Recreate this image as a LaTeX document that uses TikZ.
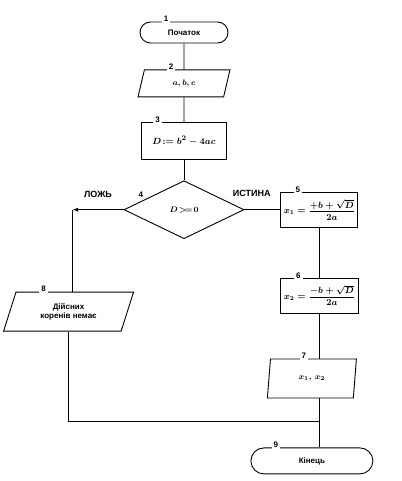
\documentclass[tikz,border=0pt]{standalone}
\usepackage{amsmath}
\usepackage[no-math]{fontspec}
\setmainfont{Liberation Sans}
\usetikzlibrary{arrows.meta,positioning,shapes.geometric,shapes.misc}
\newcommand{\fcfont}{\fontsize{8}{9.5}\selectfont\bfseries\boldmath}
\newcommand{\fcbigmath}{\fontsize{9.5}{11}\selectfont\boldmath}
\newcommand{\fcrootmath}{\fontsize{8.6}{10}\selectfont\boldmath}
\newcommand{\fcnumfont}{\fontsize{8}{9}\selectfont\bfseries}
\tikzset{
  fcTerm/.style={
    rounded rectangle, draw, align=center, inner sep=0pt,
    minimum height=21pt, font=\fcfont
  },
  fcProc/.style={
    rectangle, draw, align=center, inner sep=0pt,
    minimum height=35pt, font=\fcfont
  },
  fcData/.style={
    trapezium, trapezium left angle=#1, trapezium right angle={180-#1},
    trapezium stretches body, draw, align=center, inner sep=0pt,
    minimum height=39pt, font=\fcfont
  },
  fcData/.default=55,
  fcTest/.style={
    diamond, draw, align=center, inner sep=0pt,
    minimum width=120pt, minimum height=58pt, font=\fcfont
  },
  fcNum/.style={fill=white, inner xsep=2pt, inner ysep=1.5pt, anchor=center, font=\fcnumfont},
  fcFlag/.style={font=\fontsize{9}{10}\selectfont\bfseries, inner sep=0pt},
  fcFlow/.style={draw, line width=0.9pt},
  fcArrow/.style={-{Latex[length=2mm]}, draw, line width=0.9pt}
}

\begin{document}
\begin{tikzpicture}[line width=0.9pt]
  \useasboundingbox (0,0) rectangle (401pt,-481pt);

  \node[fcTerm, minimum width=88pt, label={[fcNum, xshift=-18pt, yshift=3pt]north:1}] (start) at (184pt,-32.5pt) {Початок};
  \node[fcData=48, minimum width=92pt, minimum height=27pt, below=26pt of start, label={[fcNum, xshift=-13pt, yshift=3pt]north:2}] (data) {$a,b,c$};
  \node[fcProc, minimum width=85pt, minimum height=37pt, below=25pt of data, font=\fcbigmath, label={[fcNum, xshift=-26.5pt, yshift=3pt]north:3}] (disc) {$D\!:=b^2-4ac$};
  \node[fcTest, below=20pt of disc, label={[fcNum, xshift=-13pt]north west:4}] (test) {$D\!>\!=\!0$};

  \node[fcProc, minimum width=77pt, right=36pt of test, font=\fcrootmath, label={[fcNum, xshift=-21.5pt, yshift=2pt]north:5}] (root1) {$x_1=\dfrac{+b+\sqrt{D}}{2a}$};
  \node[fcProc, minimum width=78pt, below=50pt of root1, font=\fcrootmath, label={[fcNum, xshift=-21pt, yshift=2pt]north:6}] (root2) {$x_2=\dfrac{-b+\sqrt{D}}{2a}$};
  \node[fcData=59, minimum width=89pt, below=45pt of root2, xshift=-7.5pt, label={[fcNum, xshift=-8pt, yshift=3pt]north:7}] (res) {$x_1,\,x_2$};
  \node[fcTerm, minimum width=122pt, minimum height=26pt, below=49pt of res, label={[fcNum, xshift=-36pt, yshift=3pt]north:9}] (stop) {Кінець};

  \coordinate[left=51pt of test] (no);
  \node[fcData=54, minimum width=130pt, below=82pt of no, xshift=-4pt, label={[fcNum, xshift=-25pt, yshift=3pt]north:8}] (nores) {Дійсних\\коренів немає};
  \path (root2.south |- stop.north) ++(0,26pt) coordinate (join);

  \draw[fcFlow] (start) -- (data);
  \draw[fcFlow] (data) -- (disc);
  \draw[fcFlow] (disc) -- (test);
  \draw[fcFlow] (test) -- node[fcFlag, pos=0.2, above=13pt]{ИСТИНА} (root1);
  \draw[fcArrow] (test.west) -- node[fcFlag, pos=0.5, above=12pt]{ЛОЖЬ} (no);
  \draw[fcFlow] (no) -- (no |- nores.north);
  \draw[fcFlow] (root1) -- (root2);
  \draw[fcFlow] (root2.south) -- (root2.south |- res.north);
  \draw[fcFlow] (root2.south |- res.south) -- (root2.south |- stop.north);
  \draw[fcFlow] (nores.south) |- (join);
\end{tikzpicture}
\end{document}
